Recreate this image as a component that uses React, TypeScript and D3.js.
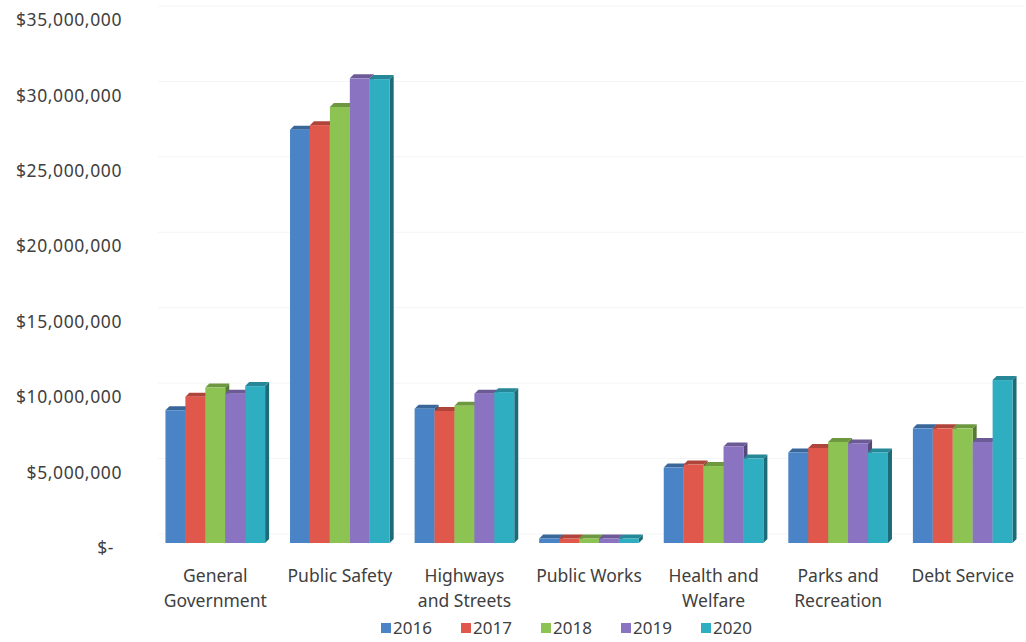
import * as React from "react";
import { scaleBand, scaleLinear } from "d3";

const categories = [
    ["General", "Government"],
    ["Public Safety"],
    ["Highways", "and Streets"],
    ["Public Works"],
    ["Health and", "Welfare"],
    ["Parks and", "Recreation"],
    ["Debt Service"]
];
const years = ["2016", "2017", "2018", "2019", "2020"];
const colors = ["#4a84c6", "#e0574b", "#8cc352", "#8a74c2", "#2fadc1"];

// millions of dollars, one array per year, in category order
const values2016 = [8.8, 27.4, 8.9, 0.3, 5.0, 6.0, 7.6];
const values2017 = [9.7, 27.7, 8.75, 0.3, 5.2, 6.3, 7.6];
const values2018 = [10.3, 28.9, 9.1, 0.3, 5.1, 6.7, 7.6];
const values2019 = [9.9, 30.8, 9.9, 0.3, 6.4, 6.6, 6.7];
const values2020 = [10.4, 30.75, 10.0, 0.3, 5.6, 6.0, 10.8];
const series = [values2016, values2017, values2018, values2019, values2020];

const yTicks = [0, 5, 10, 15, 20, 25, 30, 35];
const yTickLabels = ["$-", "$5,000,000", "$10,000,000", "$15,000,000", "$20,000,000", "$25,000,000", "$30,000,000", "$35,000,000"];

const W = 1026, H = 642;
const font = "'Noto Sans', sans-serif";

// darken a hex colour for the side / top faces
function shade(hex: string, k: number) {
    const n = parseInt(hex.slice(1), 16);
    const r = Math.round(((n >> 16) & 255) * k);
    const g = Math.round(((n >> 8) & 255) * k);
    const b = Math.round((n & 255) * k);
    return `rgb(${r},${g},${b})`;
}

export default function App() {
    const x = scaleBand<number>()
        .domain(categories.map((_, i) => i))
        .range([153, 1025])
        .paddingInner(0.2)
        .paddingOuter(0.1);
    const xInner = scaleBand<number>()
        .domain(years.map((_, i) => i))
        .range([0, x.bandwidth()]);
    const y = scaleLinear().domain([0, 35]).range([543, 15]);

    const dx = 4, dy = 4;
    const bw = xInner.bandwidth();

    return (
        <svg width={W} height={H} style={{ position: "absolute", left: 0, top: 0, background: "#fff" }}>
            {/* faint back-wall gridlines */}
            {yTicks.map(t => (
                <line key={t} x1={158} x2={1024} y1={y(t) - 9} y2={y(t) - 9} stroke="#f5f5f5" strokeWidth={1} />
            ))}
            {/* y labels */}
            {yTicks.map((t, i) => (
                <text key={t} x={t === 0 ? 114 : 122} y={y(t) + 5} dy="0.35em" textAnchor="end"
                    fontFamily={font} fontSize={17.5} letterSpacing={0.6} fill="#404040">{yTickLabels[i]}</text>
            ))}
            {/* bars */}
            {categories.map((_, ci) => (
                <g key={ci}>
                    {series.map((vals, si) => {
                        const x0 = (x(ci) as number) + (xInner(si) as number);
                        const x1 = x0 + bw;
                        const yt = y(vals[ci]);
                        const yb = y(0);
                        const c = colors[si];
                        return (
                            <g key={si}>
                                <polygon points={`${x1},${yt} ${x1 + dx},${yt - dy} ${x1 + dx},${yb - dy} ${x1},${yb}`} fill={shade(c, 0.62)} />
                                <polygon points={`${x0},${yt} ${x0 + dx},${yt - dy} ${x1 + dx},${yt - dy} ${x1},${yt}`} fill={shade(c, 0.78)} />
                                <rect x={x0} y={yt} width={bw} height={yb - yt} fill={c} />
                            </g>
                        );
                    })}
                </g>
            ))}
            {/* category labels */}
            {categories.map((lines, ci) => (
                <text key={ci} textAnchor="middle" fontFamily={font} fontSize={17.5} fill="#404040">
                    {lines.map((l, li) => (
                        <tspan key={li} x={(x(ci) as number) + x.bandwidth() / 2} y={582 + li * 25}>{l}</tspan>
                    ))}
                </text>
            ))}
            {/* legend */}
            {years.map((yr, i) => (
                <g key={yr} transform={`translate(${381 + i * 80},0)`}>
                    <rect x={0} y={623} width={10} height={10} fill={colors[i]} />
                    <text x={12} y={634} fontFamily={font} fontSize={17} fill="#404040">{yr}</text>
                </g>
            ))}
        </svg>
    );
}
